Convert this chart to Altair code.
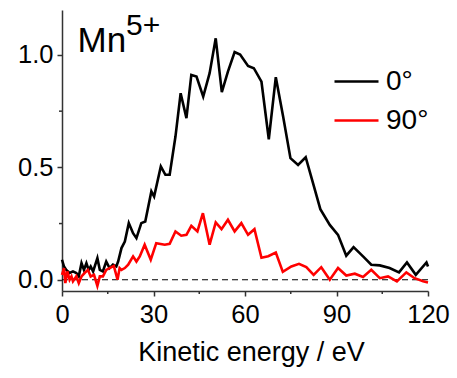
import altair as alt
import pandas as pd

# Kinetic-energy spectra of Mn5+ fragments at two polarisation angles
energy_0 = [0, 0.66, 1.4, 2.5, 3.6, 4.7, 5.5, 6.4, 7.2, 8.0, 8.75, 9.4, 10.2, 11.6, 12.4,
            13.4, 14.5, 15.6, 16.7, 17.8, 18.4, 19.5, 20.6, 21.9, 23.3, 24.4, 26.0, 27.3,
            29.3, 30.2, 32.4, 33.9, 35.3, 37.2, 38.9, 40.8, 42.4, 44.1, 46.3, 48.4, 50.4,
            52.4, 54.4, 56.6, 58.4, 61.0, 62.9, 65.4, 67.8, 70.1, 72.5, 74.9, 77.4, 79.9,
            82.3, 84.7, 87.8, 90.5, 93.2, 95.6, 98.7, 101.4, 104.2, 107.4, 110.5, 113.1,
            116.0, 119.5, 120.0]
signal_0 = [0.089, 0.059, 0.044, 0.030, 0.037, 0.030, 0.015, 0.074, 0.044, 0.074, 0.044,
            0.059, 0.037, 0.096, 0.044, 0.037, 0.081, 0.052, 0.067, 0.059, 0.081, 0.141,
            0.170, 0.252, 0.207, 0.185, 0.252, 0.259, 0.393, 0.370, 0.504, 0.467, 0.467,
            0.637, 0.830, 0.719, 0.911, 0.904, 0.815, 0.919, 1.074, 0.835, 0.926, 1.013,
            1.002, 0.951, 0.941, 0.881, 0.625, 0.901, 0.726, 0.541, 0.511, 0.545, 0.430,
            0.314, 0.244, 0.200, 0.107, 0.145, 0.104, 0.067, 0.064, 0.052, 0.033, 0.077,
            0.022, 0.077, 0.059]

energy_90 = [0, 0.66, 1.1, 1.75, 2.5, 3.1, 3.6, 4.7, 5.5, 6.4, 7.4, 8.5, 9.4, 10.5, 11.6,
             12.4, 13.4, 14.5, 15.6, 17.0, 18.2, 18.9, 19.5, 20.6, 21.7, 23.3, 24.4, 25.5,
             27.1, 29.1, 30.9, 33.7, 35.3, 37.2, 39.1, 40.8, 42.4, 44.4, 46.2, 48.4, 50.4,
             52.3, 54.4, 56.6, 58.8, 61.0, 63.1, 65.4, 67.6, 70.1, 72.4, 75.2, 77.7, 80.1,
             82.5, 85.0, 87.8, 90.5, 93.2, 96.0, 98.7, 101.4, 104.2, 106.9, 109.8, 112.9,
             115.6, 118.4, 120.0]
signal_90 = [0.022, 0.052, -0.015, 0.037, 0.000, 0.015, -0.007, 0.015, -0.015, 0.015, 0.030,
             0.044, 0.015, 0.022, -0.027, 0.015, 0.015, 0.044, 0.052, 0.062, 0.000, 0.052,
             0.044, 0.052, 0.067, 0.104, 0.081, 0.104, 0.156, 0.089, 0.163, 0.156, 0.160,
             0.215, 0.196, 0.200, 0.240, 0.215, 0.296, 0.156, 0.255, 0.225, 0.267, 0.215,
             0.252, 0.200, 0.225, 0.098, 0.105, 0.121, 0.035, 0.059, 0.071, 0.056, 0.022,
             0.056, 0.000, 0.052, 0.019, 0.027, 0.012, 0.044, 0.007, 0.015, -0.007, 0.033,
             0.007, -0.007, -0.012]

series_names = ["0°", "90°"]
series_colors = ["#000000", "#ff0000"]

x_major = [0, 30, 60, 90, 120]
x_minor = [15, 45, 75, 105]
y_major = [0.0, 0.5, 1.0]
y_minor = [0.25, 0.75]

FONT = "Liberation Sans"
AXIS_COLOR = "#333333"
W, H = 366, 281

df = pd.concat([
    pd.DataFrame({"energy": energy_0, "signal": signal_0, "angle": series_names[0], "order": 0}),
    pd.DataFrame({"energy": energy_90, "signal": signal_90, "angle": series_names[1], "order": 1}),
])

x_scale = alt.Scale(domain=[0, 120], nice=False, zero=False)
y_scale = alt.Scale(domain=[-0.05, 1.2], nice=False, zero=False)

lines = alt.Chart(df).mark_line(strokeWidth=2.6, strokeJoin="miter").encode(
    x=alt.X("energy:Q", scale=x_scale,
            axis=alt.Axis(values=x_major, title="Kinetic energy / eV", format="d",
                          titleX=189, labelFlush=False)),
    y=alt.Y("signal:Q", scale=y_scale,
            axis=alt.Axis(values=y_major, title=None, format=".1f", labelFlush=False)),
    color=alt.Color("angle:N",
                    scale=alt.Scale(domain=series_names, range=series_colors),
                    legend=alt.Legend(title=None, orient="none", legendX=271, legendY=48,
                                      symbolType="stroke", symbolSize=1936,
                                      symbolStrokeWidth=2.6, labelFontSize=28,
                                      labelFont=FONT, labelColor="black", labelOffset=6,
                                      rowPadding=1, padding=0)),
    detail="order:O",
    order="energy:Q",
)

zero_line = alt.Chart(pd.DataFrame({"v": [0]})).mark_rule(
    color="black", strokeDash=[6, 4], strokeWidth=1.2
).encode(y=alt.Y("v:Q", scale=y_scale))

x_minor_ticks = alt.Chart(pd.DataFrame({"e": x_minor})).mark_rule(
    color=AXIS_COLOR, strokeWidth=1.5
).encode(x=alt.X("e:Q", scale=x_scale), y=alt.value(H), y2=alt.value(H + 3))

y_minor_ticks = alt.Chart(pd.DataFrame({"s": y_minor})).mark_rule(
    color=AXIS_COLOR, strokeWidth=1.5
).encode(y=alt.Y("s:Q", scale=y_scale), x=alt.value(-3), x2=alt.value(0))

label_main = alt.Chart(pd.DataFrame({"t": ["Mn"]})).mark_text(
    font=FONT, fontSize=35, align="left", baseline="alphabetic", color="black"
).encode(text="t:N", x=alt.value(15.5), y=alt.value(42.3))

label_sup = alt.Chart(pd.DataFrame({"t": ["5+"]})).mark_text(
    font=FONT, fontSize=30, align="left", baseline="alphabetic", color="black"
).encode(text="t:N", x=alt.value(64), y=alt.value(25))

chart = alt.layer(
    zero_line, lines, x_minor_ticks, y_minor_ticks, label_main, label_sup
).properties(
    width=W, height=H,
    autosize=alt.AutoSizeParams(type="none"),
    padding={"left": 62, "top": 10, "right": 29, "bottom": 87},
).configure_view(stroke=None).configure_axis(
    domainColor=AXIS_COLOR, domainWidth=1.5, tickColor=AXIS_COLOR, tickWidth=1.5, tickSize=5,
    labelFont=FONT, labelFontSize=25.5, labelColor="black",
    titleFont=FONT, titleFontSize=27, titleFontWeight="normal", titleColor="black",
    grid=False,
).configure_axisX(labelPadding=6, titlePadding=12).configure_axisY(labelPadding=4)

chart.save("out.html", embed_options={"renderer": "svg", "actions": False})
